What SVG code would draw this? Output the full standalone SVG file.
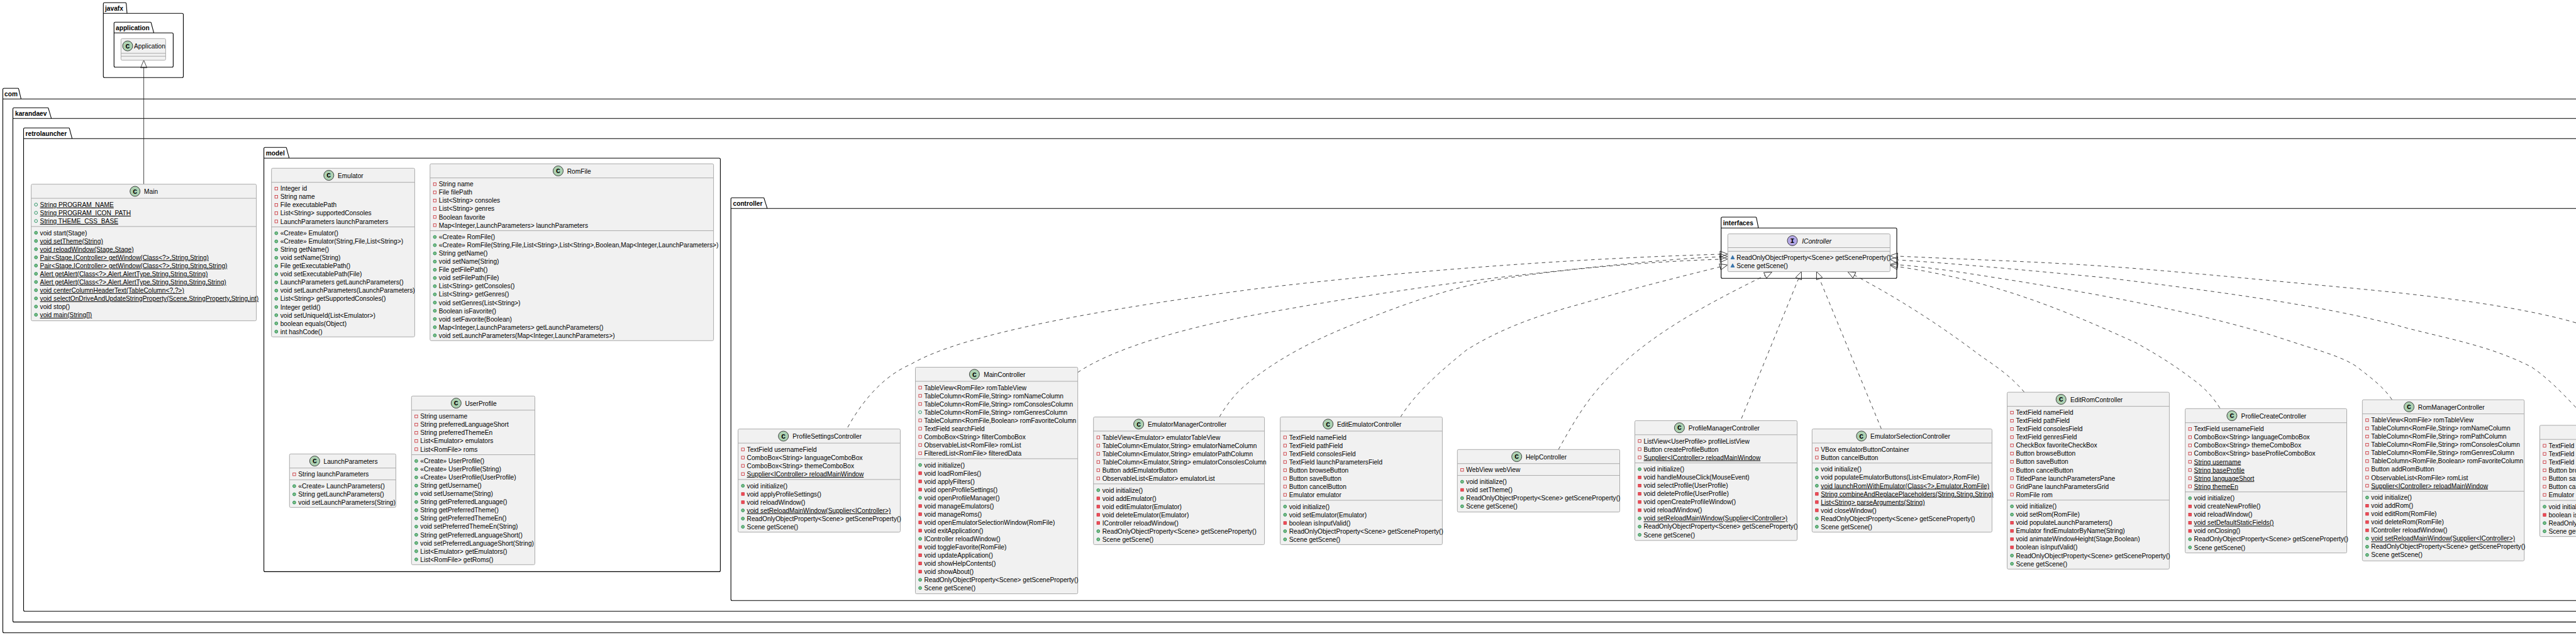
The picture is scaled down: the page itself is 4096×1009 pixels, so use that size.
<svg xmlns="http://www.w3.org/2000/svg" width="4096" height="1009" viewBox="0 0 4096 1009">
<style>
text{font-family:"Liberation Sans",Arial,sans-serif;font-size:10.2px;fill:#000}
.pk{fill:none;stroke:#000;stroke-width:1.1}
.pt{font-weight:bold}
.b{fill:#F1F1F1;stroke:#ABABAB;stroke-width:1}
.l{stroke:#ABABAB;stroke-width:1;fill:none}
.c{fill:#ADD1B2;stroke:#181818;stroke-width:.8}
.i{fill:#B4A7E5;stroke:#181818;stroke-width:.8}
.g{font-family:"Liberation Mono",monospace;font-weight:bold;font-size:11.5px;text-anchor:middle}
.s{text-decoration:underline}
.e{font-style:italic}
.d{fill:none;stroke:#181818;stroke-width:.8;stroke-dasharray:5.6 5.6}
.a{fill:none;stroke:#181818;stroke-width:.8}
</style>
<defs>
<marker id="h" markerUnits="userSpaceOnUse" markerWidth="14" markerHeight="12" refX="0" refY="6" orient="auto" overflow="visible"><path d="M0,1 L12,6 L0,11 Z" fill="none" stroke="#181818" stroke-width=".8"/></marker>
<rect id="f" x="5.4" y="-5.9" width="4.4" height="4.4" fill="none" stroke="#C82930" stroke-width=".8"/>
<circle id="u" cx="7.6" cy="-3.7" r="2.4" fill="none" stroke="#038048" stroke-width=".8"/>
<circle id="p" cx="7.6" cy="-3.7" r="2.4" fill="#84BE84" stroke="#038048" stroke-width=".8"/>
<rect id="r" x="5.4" y="-5.9" width="4.4" height="4.4" fill="#F24D5C" stroke="#C82930" stroke-width=".8"/>
<path id="t" d="M7.7,-7 L10.5,-1.6 L4.9,-1.6 Z" fill="#4177AF" stroke="#1963A0" stroke-width=".8"/>
</defs>
<rect width="4096" height="1009" fill="#fff"/>
<g id="packages">
<g id="pkg-javafx"><path class="pk" d="M164.3,6.3 Q164.3,4.3 166.3,4.3 H199.5 Q200.5,4.3 200.8,6.3 L202,21.3 H289.5 Q291.5,21.3 291.5,23.3 V121.3 Q291.5,123.3 289.5,123.3 H166.3 Q164.3,123.3 164.3,121.3 Z M164.3,21.3 H202"/><text class="pt" x="167" y="16.8">javafx</text></g>
<g id="pkg-application"><path class="pk" d="M181.3,37.3 Q181.3,35.3 183.3,35.3 H239.3 Q240.3,35.3 240.6,37.3 L244.6,52.3 H273.4 Q275.4,52.3 275.4,54.3 V104.7 Q275.4,106.7 273.4,106.7 H183.3 Q181.3,106.7 181.3,104.7 Z M181.3,52.3 H244.6"/><text class="pt" x="184" y="48.3">application</text></g>
<g id="pkg-com"><path class="pk" d="M4.5,142.3 Q4.5,140.3 6.5,140.3 H28.6 Q29.6,140.3 29.9,142.3 L33.5,157.3 H4130 V1005.5 H6.5 Q4.5,1005.5 4.5,1003.5 Z M4.5,157.3 H33.5"/><text class="pt" x="7" y="153">com</text></g>
<g id="pkg-karandaev"><path class="pk" d="M20.5,173.3 Q20.5,171.3 22.5,171.3 H76 Q77,171.3 77.3,173.3 L81.7,188.3 H4130 V988.4 H22.5 Q20.5,988.4 20.5,986.4 Z M20.5,188.3 H81.7"/><text class="pt" x="24" y="184">karandaev</text></g>
<g id="pkg-retrolauncher"><path class="pk" d="M37.5,205.3 Q37.5,203.3 39.5,203.3 H109.4 Q110.4,203.3 110.7,205.3 L114.7,220.3 H4130 V971.3 H39.5 Q37.5,971.3 37.5,969.3 Z M37.5,220.3 H114.7"/><text class="pt" x="40.5" y="216">retrolauncher</text></g>
<g id="pkg-model"><path class="pk" d="M419.6,236.3 Q419.6,234.3 421.6,234.3 H454.5 Q455.5,234.3 455.8,236.3 L459.8,251.3 H1143.4 Q1145.4,251.3 1145.4,253.3 V906.4 Q1145.4,908.4 1143.4,908.4 H421.6 Q419.6,908.4 419.6,906.4 Z M419.6,251.3 H459.8"/><text class="pt" x="422.8" y="247">model</text></g>
<g id="pkg-controller"><path class="pk" d="M1162.2,316.3 Q1162.2,314.3 1164.2,314.3 H1214 Q1215,314.3 1215.3,316.3 L1220,331.3 H4130 V954.3 H1164.2 Q1162.2,954.3 1162.2,952.3 Z M1162.2,331.3 H1220"/><text class="pt" x="1165.5" y="327">controller</text></g>
<g id="pkg-interfaces"><path class="pk" d="M2736.7,347 Q2736.7,345 2738.7,345 H2791.7 Q2792.7,345 2793,347 L2796,362.3 H3014 Q3016,362.3 3016,364.3 V440.3 Q3016,442.3 3014,442.3 H2738.7 Q2736.7,442.3 2736.7,440.3 Z M2736.7,362.3 H2796"/><text class="pt" x="2739.7" y="358">interfaces</text></g>
</g>
<g id="connectors">
<path class="a" marker-end="url(#h)" d="M228.6,292.7 V107.7"/>
<path class="d" marker-end="url(#h)" d="M1347.9,679.1 C1375,630 1410,595 1448,579 C1530,530 1760,490 2000,458.5 C2240,430 2500,411 2735,404"/>
<path class="d" marker-end="url(#h)" d="M1713.7,591.8 C1760,560 1860,525 2000,499.5 C2150,472 2300,450 2408,438 C2520,426 2640,412 2735,408"/>
<path class="d" marker-end="url(#h)" d="M1939,662.6 C1950,643 1965,625 1979,613 C2030,570 2090,540 2153,515 C2240,480 2320,452 2408,440 C2510,425 2640,415 2735,412"/>
<path class="d" marker-end="url(#h)" d="M2227,662.6 C2250,625 2290,590 2332,556 C2390,520 2450,500 2510,484 C2590,460 2670,440 2735,424"/>
<path class="d" marker-end="url(#h)" d="M2478,714.3 C2500,675 2520,640 2548,610 C2610,540 2700,490 2806.7,437.6"/>
<path class="d" marker-end="url(#h)" d="M2769,665 L2859.8,442.7"/>
<path class="d" marker-end="url(#h)" d="M2991.5,681.6 L2893,442.7"/>
<path class="d" marker-end="url(#h)" d="M3218.8,623.2 C3195,595 3170,580 3146,563 C3100,528 3030,480 2948.6,437.3"/>
<path class="d" marker-end="url(#h)" d="M3529.8,648.5 C3515,625 3500,612 3483,600 C3450,575 3420,558 3397,545 C3320,510 3240,475 3146,450 C3100,438 3060,430 3017.2,423.5"/>
<path class="d" marker-end="url(#h)" d="M3803.4,635 C3790,615 3770,600 3745,581 C3720,565 3680,555 3635,540 C3500,495 3300,460 3100,430 C3060,425 3040,422 3017.2,420.8"/>
<path class="d" marker-end="url(#h)" d="M4096,647.7 C4070,620 4050,600 4025,583 C3960,550 3900,540 3826,521 C3700,485 3500,460 3350,441.5 C3230,430 3100,418 3017.2,413"/>
<path class="d" marker-end="url(#h)" d="M4096,513 C4000,485 3850,468 3730,457 C3600,445 3450,430 3350,423.3 C3250,416 3120,412 3017.2,407"/>
</g>
<g id="Application" transform="translate(192.4,61.3)"><rect class="b" width="71" height="34.4" rx="2"/><path class="l" d="M0,23.4 H71 M0,28 H71"/><circle class="c" cx="10.6" cy="11.7" r="8"/><text class="g" x="10.6" y="15.4">C</text><text x="20.6" y="15.7">Application</text></g>
<g id="Main" transform="translate(49.6,292.7)"><rect class="b" width="358" height="217" rx="2"/><path class="l" d="M0,22.4 H358 M0,67.19 H358"/><circle class="c" cx="165.1" cy="11.3" r="8"/><text class="g" x="165.1" y="15">C</text><text x="179.4" y="15.7">Main</text>
<g transform="translate(0,36.1)"><use href="#u"/><text class="s" x="14" y="0">String PROGRAM_NAME</text><use href="#u" y="13.03"/><text class="s" x="14" y="13.03">String PROGRAM_ICON_PATH</text><use href="#u" y="26.06"/><text class="s" x="14" y="26.06">String THEME_CSS_BASE</text></g>
<g transform="translate(0,80.89)"><use href="#p"/><text x="14" y="0">void start(Stage)</text><use href="#p" y="13.03"/><text class="s" x="14" y="13.03">void setTheme(String)</text><use href="#p" y="26.06"/><text class="s" x="14" y="26.06">void reloadWindow(Stage,Stage)</text><use href="#p" y="39.09"/><text class="s" x="14" y="39.09">Pair&lt;Stage,IController&gt; getWindow(Class&lt;?&gt;,String,String)</text><use href="#p" y="52.12"/><text class="s" x="14" y="52.12">Pair&lt;Stage,IController&gt; getWindow(Class&lt;?&gt;,String,String,String)</text><use href="#p" y="65.15"/><text class="s" x="14" y="65.15">Alert getAlert(Class&lt;?&gt;,Alert.AlertType,String,String,String)</text><use href="#p" y="78.18"/><text class="s" x="14" y="78.18">Alert getAlert(Class&lt;?&gt;,Alert.AlertType,String,String,String,String)</text><use href="#p" y="91.21"/><text class="s" x="14" y="91.21">void centerColumnHeaderText(TableColumn&lt;?,?&gt;)</text><use href="#p" y="104.24"/><text class="s" x="14" y="104.24">void selectOnDriveAndUpdateStringProperty(Scene,StringProperty,String,int)</text><use href="#p" y="117.27"/><text x="14" y="117.27">void stop()</text><use href="#p" y="130.3"/><text class="s" x="14" y="130.3">void main(String[])</text></g></g>
<g id="Emulator" transform="translate(431.7,267.3)"><rect class="b" width="227.7" height="268" rx="2"/><path class="l" d="M0,22.4 H227.7 M0,93.25 H227.7"/><circle class="c" cx="91.1" cy="11.3" r="8"/><text class="g" x="91.1" y="15">C</text><text x="105.3" y="15.7">Emulator</text>
<g transform="translate(0,36.1)"><use href="#f"/><text x="14" y="0">Integer id</text><use href="#f" y="13.03"/><text x="14" y="13.03">String name</text><use href="#f" y="26.06"/><text x="14" y="26.06">File executablePath</text><use href="#f" y="39.09"/><text x="14" y="39.09">List&lt;String&gt; supportedConsoles</text><use href="#f" y="52.12"/><text x="14" y="52.12">LaunchParameters launchParameters</text></g>
<g transform="translate(0,106.95)"><use href="#p"/><text x="14" y="0">«Create» Emulator()</text><use href="#p" y="13.03"/><text x="14" y="13.03">«Create» Emulator(String,File,List&lt;String&gt;)</text><use href="#p" y="26.06"/><text x="14" y="26.06">String getName()</text><use href="#p" y="39.09"/><text x="14" y="39.09">void setName(String)</text><use href="#p" y="52.12"/><text x="14" y="52.12">File getExecutablePath()</text><use href="#p" y="65.15"/><text x="14" y="65.15">void setExecutablePath(File)</text><use href="#p" y="78.18"/><text x="14" y="78.18">LaunchParameters getLaunchParameters()</text><use href="#p" y="91.21"/><text x="14" y="91.21">void setLaunchParameters(LaunchParameters)</text><use href="#p" y="104.24"/><text x="14" y="104.24">List&lt;String&gt; getSupportedConsoles()</text><use href="#p" y="117.27"/><text x="14" y="117.27">Integer getId()</text><use href="#p" y="130.3"/><text x="14" y="130.3">void setUniqueId(List&lt;Emulator&gt;)</text><use href="#p" y="143.33"/><text x="14" y="143.33">boolean equals(Object)</text><use href="#p" y="156.36"/><text x="14" y="156.36">int hashCode()</text></g></g>
<g id="RomFile" transform="translate(683.8,260.3)"><rect class="b" width="450.8" height="281" rx="2"/><path class="l" d="M0,22.4 H450.8 M0,106.28 H450.8"/><circle class="c" cx="203.7" cy="11.3" r="8"/><text class="g" x="203.7" y="15">C</text><text x="217.9" y="15.7">RomFile</text>
<g transform="translate(0,36.1)"><use href="#f"/><text x="14" y="0">String name</text><use href="#f" y="13.03"/><text x="14" y="13.03">File filePath</text><use href="#f" y="26.06"/><text x="14" y="26.06">List&lt;String&gt; consoles</text><use href="#f" y="39.09"/><text x="14" y="39.09">List&lt;String&gt; genres</text><use href="#f" y="52.12"/><text x="14" y="52.12">Boolean favorite</text><use href="#f" y="65.15"/><text x="14" y="65.15">Map&lt;Integer,LaunchParameters&gt; launchParameters</text></g>
<g transform="translate(0,119.98)"><use href="#p"/><text x="14" y="0">«Create» RomFile()</text><use href="#p" y="13.03"/><text x="14" y="13.03">«Create» RomFile(String,File,List&lt;String&gt;,List&lt;String&gt;,Boolean,Map&lt;Integer,LaunchParameters&gt;)</text><use href="#p" y="26.06"/><text x="14" y="26.06">String getName()</text><use href="#p" y="39.09"/><text x="14" y="39.09">void setName(String)</text><use href="#p" y="52.12"/><text x="14" y="52.12">File getFilePath()</text><use href="#p" y="65.15"/><text x="14" y="65.15">void setFilePath(File)</text><use href="#p" y="78.18"/><text x="14" y="78.18">List&lt;String&gt; getConsoles()</text><use href="#p" y="91.21"/><text x="14" y="91.21">List&lt;String&gt; getGenres()</text><use href="#p" y="104.24"/><text x="14" y="104.24">void setGenres(List&lt;String&gt;)</text><use href="#p" y="117.27"/><text x="14" y="117.27">Boolean isFavorite()</text><use href="#p" y="130.3"/><text x="14" y="130.3">void setFavorite(Boolean)</text><use href="#p" y="143.33"/><text x="14" y="143.33">Map&lt;Integer,LaunchParameters&gt; getLaunchParameters()</text><use href="#p" y="156.36"/><text x="14" y="156.36">void setLaunchParameters(Map&lt;Integer,LaunchParameters&gt;)</text></g></g>
<g id="UserProfile" transform="translate(654.3,629.3)"><rect class="b" width="196.2" height="268" rx="2"/><path class="l" d="M0,22.4 H196.2 M0,93.25 H196.2"/><circle class="c" cx="71" cy="11.3" r="8"/><text class="g" x="71" y="15">C</text><text x="85.1" y="15.7">UserProfile</text>
<g transform="translate(0,36.1)"><use href="#f"/><text x="14" y="0">String username</text><use href="#f" y="13.03"/><text x="14" y="13.03">String preferredLanguageShort</text><use href="#f" y="26.06"/><text x="14" y="26.06">String preferredThemeEn</text><use href="#f" y="39.09"/><text x="14" y="39.09">List&lt;Emulator&gt; emulators</text><use href="#f" y="52.12"/><text x="14" y="52.12">List&lt;RomFile&gt; roms</text></g>
<g transform="translate(0,106.95)"><use href="#p"/><text x="14" y="0">«Create» UserProfile()</text><use href="#p" y="13.03"/><text x="14" y="13.03">«Create» UserProfile(String)</text><use href="#p" y="26.06"/><text x="14" y="26.06">«Create» UserProfile(UserProfile)</text><use href="#p" y="39.09"/><text x="14" y="39.09">String getUsername()</text><use href="#p" y="52.12"/><text x="14" y="52.12">void setUsername(String)</text><use href="#p" y="65.15"/><text x="14" y="65.15">String getPreferredLanguage()</text><use href="#p" y="78.18"/><text x="14" y="78.18">String getPreferredTheme()</text><use href="#p" y="91.21"/><text x="14" y="91.21">String getPreferredThemeEn()</text><use href="#p" y="104.24"/><text x="14" y="104.24">void setPreferredThemeEn(String)</text><use href="#p" y="117.27"/><text x="14" y="117.27">String getPreferredLanguageShort()</text><use href="#p" y="130.3"/><text x="14" y="130.3">void setPreferredLanguageShort(String)</text><use href="#p" y="143.33"/><text x="14" y="143.33">List&lt;Emulator&gt; getEmulators()</text><use href="#p" y="156.36"/><text x="14" y="156.36">List&lt;RomFile&gt; getRoms()</text></g></g>
<g id="LaunchParameters" transform="translate(460.3,721.3)"><rect class="b" width="169.1" height="85" rx="2"/><path class="l" d="M0,22.4 H169.1 M0,41.13 H169.1"/><circle class="c" cx="40.1" cy="11.3" r="8"/><text class="g" x="40.1" y="15">C</text><text x="54.2" y="15.7">LaunchParameters</text>
<g transform="translate(0,36.1)"><use href="#f"/><text x="14" y="0">String launchParameters</text></g>
<g transform="translate(0,54.83)"><use href="#p"/><text x="14" y="0">«Create» LaunchParameters()</text><use href="#p" y="13.03"/><text x="14" y="13.03">String getLaunchParameters()</text><use href="#p" y="26.06"/><text x="14" y="26.06">void setLaunchParameters(String)</text></g></g>
<g id="ProfileSettingsController" transform="translate(1173.6,681.7)"><rect class="b" width="257.9" height="163.8" rx="2"/><path class="l" d="M0,22.4 H257.9 M0,80.22 H257.9"/><circle class="c" cx="72.1" cy="11.3" r="8"/><text class="g" x="72.1" y="15">C</text><text x="86.7" y="15.7">ProfileSettingsController</text>
<g transform="translate(0,36.1)"><use href="#f"/><text x="14" y="0">TextField usernameField</text><use href="#f" y="13.03"/><text x="14" y="13.03">ComboBox&lt;String&gt; languageComboBox</text><use href="#f" y="26.06"/><text x="14" y="26.06">ComboBox&lt;String&gt; themeComboBox</text><use href="#f" y="39.09"/><text class="s" x="14" y="39.09">Supplier&lt;IController&gt; reloadMainWindow</text></g>
<g transform="translate(0,93.92)"><use href="#p"/><text x="14" y="0">void initialize()</text><use href="#r" y="13.03"/><text x="14" y="13.03">void applyProfileSettings()</text><use href="#r" y="26.06"/><text x="14" y="26.06">void reloadWindow()</text><use href="#p" y="39.09"/><text class="s" x="14" y="39.09">void setReloadMainWindow(Supplier&lt;IController&gt;)</text><use href="#p" y="52.12"/><text x="14" y="52.12">ReadOnlyObjectProperty&lt;Scene&gt; getSceneProperty()</text><use href="#p" y="65.15"/><text x="14" y="65.15">Scene getScene()</text></g></g>
<g id="MainController" transform="translate(1455.5,583.5)"><rect class="b" width="258.2" height="360" rx="2"/><path class="l" d="M0,22.4 H258.2 M0,145.37 H258.2"/><circle class="c" cx="93.9" cy="11.3" r="8"/><text class="g" x="93.9" y="15">C</text><text x="108.7" y="15.7">MainController</text>
<g transform="translate(0,36.1)"><use href="#f"/><text x="14" y="0">TableView&lt;RomFile&gt; romTableView</text><use href="#f" y="13.03"/><text x="14" y="13.03">TableColumn&lt;RomFile,String&gt; romNameColumn</text><use href="#f" y="26.06"/><text x="14" y="26.06">TableColumn&lt;RomFile,String&gt; romConsolesColumn</text><use href="#u" y="39.09"/><text x="14" y="39.09">TableColumn&lt;RomFile,String&gt; romGenresColumn</text><use href="#f" y="52.12"/><text x="14" y="52.12">TableColumn&lt;RomFile,Boolean&gt; romFavoriteColumn</text><use href="#f" y="65.15"/><text x="14" y="65.15">TextField searchField</text><use href="#f" y="78.18"/><text x="14" y="78.18">ComboBox&lt;String&gt; filterComboBox</text><use href="#f" y="91.21"/><text x="14" y="91.21">ObservableList&lt;RomFile&gt; romList</text><use href="#f" y="104.24"/><text x="14" y="104.24">FilteredList&lt;RomFile&gt; filteredData</text></g>
<g transform="translate(0,159.07)"><use href="#p"/><text x="14" y="0">void initialize()</text><use href="#r" y="13.03"/><text x="14" y="13.03">void loadRomFiles()</text><use href="#r" y="26.06"/><text x="14" y="26.06">void applyFilters()</text><use href="#r" y="39.09"/><text x="14" y="39.09">void openProfileSettings()</text><use href="#p" y="52.12"/><text x="14" y="52.12">void openProfileManager()</text><use href="#r" y="65.15"/><text x="14" y="65.15">void manageEmulators()</text><use href="#r" y="78.18"/><text x="14" y="78.18">void manageRoms()</text><use href="#r" y="91.21"/><text x="14" y="91.21">void openEmulatorSelectionWindow(RomFile)</text><use href="#r" y="104.24"/><text x="14" y="104.24">void exitApplication()</text><use href="#p" y="117.27"/><text x="14" y="117.27">IController reloadWindow()</text><use href="#r" y="130.3"/><text x="14" y="130.3">void toggleFavorite(RomFile)</text><use href="#r" y="143.33"/><text x="14" y="143.33">void updateApplication()</text><use href="#r" y="156.36"/><text x="14" y="156.36">void showHelpContents()</text><use href="#r" y="169.39"/><text x="14" y="169.39">void showAbout()</text><use href="#p" y="182.42"/><text x="14" y="182.42">ReadOnlyObjectProperty&lt;Scene&gt; getSceneProperty()</text><use href="#p" y="195.45"/><text x="14" y="195.45">Scene getScene()</text></g></g>
<g id="EmulatorManagerController" transform="translate(1738.7,662.6)"><rect class="b" width="271.9" height="202.8" rx="2"/><path class="l" d="M0,22.4 H271.9 M0,106.28 H271.9"/><circle class="c" cx="71.9" cy="11.3" r="8"/><text class="g" x="71.9" y="15">C</text><text x="86.2" y="15.7">EmulatorManagerController</text>
<g transform="translate(0,36.1)"><use href="#f"/><text x="14" y="0">TableView&lt;Emulator&gt; emulatorTableView</text><use href="#f" y="13.03"/><text x="14" y="13.03">TableColumn&lt;Emulator,String&gt; emulatorNameColumn</text><use href="#f" y="26.06"/><text x="14" y="26.06">TableColumn&lt;Emulator,String&gt; emulatorPathColumn</text><use href="#f" y="39.09"/><text x="14" y="39.09">TableColumn&lt;Emulator,String&gt; emulatorConsolesColumn</text><use href="#f" y="52.12"/><text x="14" y="52.12">Button addEmulatorButton</text><use href="#f" y="65.15"/><text x="14" y="65.15">ObservableList&lt;Emulator&gt; emulatorList</text></g>
<g transform="translate(0,119.98)"><use href="#p"/><text x="14" y="0">void initialize()</text><use href="#r" y="13.03"/><text x="14" y="13.03">void addEmulator()</text><use href="#r" y="26.06"/><text x="14" y="26.06">void editEmulator(Emulator)</text><use href="#r" y="39.09"/><text x="14" y="39.09">void deleteEmulator(Emulator)</text><use href="#r" y="52.12"/><text x="14" y="52.12">IController reloadWindow()</text><use href="#p" y="65.15"/><text x="14" y="65.15">ReadOnlyObjectProperty&lt;Scene&gt; getSceneProperty()</text><use href="#p" y="78.18"/><text x="14" y="78.18">Scene getScene()</text></g></g>
<g id="EditEmulatorController" transform="translate(2035.7,662.6)"><rect class="b" width="257.7" height="202.8" rx="2"/><path class="l" d="M0,22.4 H257.7 M0,132.34 H257.7"/><circle class="c" cx="76" cy="11.3" r="8"/><text class="g" x="76" y="15">C</text><text x="90.3" y="15.7">EditEmulatorController</text>
<g transform="translate(0,36.1)"><use href="#f"/><text x="14" y="0">TextField nameField</text><use href="#f" y="13.03"/><text x="14" y="13.03">TextField pathField</text><use href="#f" y="26.06"/><text x="14" y="26.06">TextField consolesField</text><use href="#f" y="39.09"/><text x="14" y="39.09">TextField launchParametersField</text><use href="#f" y="52.12"/><text x="14" y="52.12">Button browseButton</text><use href="#f" y="65.15"/><text x="14" y="65.15">Button saveButton</text><use href="#f" y="78.18"/><text x="14" y="78.18">Button cancelButton</text><use href="#f" y="91.21"/><text x="14" y="91.21">Emulator emulator</text></g>
<g transform="translate(0,146.04)"><use href="#p"/><text x="14" y="0">void initialize()</text><use href="#p" y="13.03"/><text x="14" y="13.03">void setEmulator(Emulator)</text><use href="#r" y="26.06"/><text x="14" y="26.06">boolean isInputValid()</text><use href="#p" y="39.09"/><text x="14" y="39.09">ReadOnlyObjectProperty&lt;Scene&gt; getSceneProperty()</text><use href="#p" y="52.12"/><text x="14" y="52.12">Scene getScene()</text></g></g>
<g id="HelpController" transform="translate(2317.3,714.3)"><rect class="b" width="258.2" height="99.3" rx="2"/><path class="l" d="M0,22.4 H258.2 M0,41.13 H258.2"/><circle class="c" cx="94.4" cy="11.3" r="8"/><text class="g" x="94.4" y="15">C</text><text x="108.7" y="15.7">HelpController</text>
<g transform="translate(0,36.1)"><use href="#f"/><text x="14" y="0">WebView webView</text></g>
<g transform="translate(0,54.83)"><use href="#p"/><text x="14" y="0">void initialize()</text><use href="#r" y="13.03"/><text x="14" y="13.03">void setTheme()</text><use href="#p" y="26.06"/><text x="14" y="26.06">ReadOnlyObjectProperty&lt;Scene&gt; getSceneProperty()</text><use href="#p" y="39.09"/><text x="14" y="39.09">Scene getScene()</text></g></g>
<g id="ProfileManagerController" transform="translate(2599.5,668.4)"><rect class="b" width="258.1" height="190.4" rx="2"/><path class="l" d="M0,22.4 H258.1 M0,67.19 H258.1"/><circle class="c" cx="70.9" cy="11.3" r="8"/><text class="g" x="70.9" y="15">C</text><text x="85.2" y="15.7">ProfileManagerController</text>
<g transform="translate(0,36.1)"><use href="#f"/><text x="14" y="0">ListView&lt;UserProfile&gt; profileListView</text><use href="#f" y="13.03"/><text x="14" y="13.03">Button createProfileButton</text><use href="#f" y="26.06"/><text class="s" x="14" y="26.06">Supplier&lt;IController&gt; reloadMainWindow</text></g>
<g transform="translate(0,80.89)"><use href="#p"/><text x="14" y="0">void initialize()</text><use href="#r" y="13.03"/><text x="14" y="13.03">void handleMouseClick(MouseEvent)</text><use href="#r" y="26.06"/><text x="14" y="26.06">void selectProfile(UserProfile)</text><use href="#r" y="39.09"/><text x="14" y="39.09">void deleteProfile(UserProfile)</text><use href="#r" y="52.12"/><text x="14" y="52.12">void openCreateProfileWindow()</text><use href="#r" y="65.15"/><text x="14" y="65.15">void reloadWindow()</text><use href="#p" y="78.18"/><text class="s" x="14" y="78.18">void setReloadMainWindow(Supplier&lt;IController&gt;)</text><use href="#p" y="91.21"/><text x="14" y="91.21">ReadOnlyObjectProperty&lt;Scene&gt; getSceneProperty()</text><use href="#p" y="104.24"/><text x="14" y="104.24">Scene getScene()</text></g></g>
<g id="EmulatorSelectionController" transform="translate(2881.3,681.6)"><rect class="b" width="286.1" height="163.9" rx="2"/><path class="l" d="M0,22.4 H286.1 M0,54.16 H286.1"/><circle class="c" cx="78.5" cy="11.3" r="8"/><text class="g" x="78.5" y="15">C</text><text x="92.8" y="15.7">EmulatorSelectionController</text>
<g transform="translate(0,36.1)"><use href="#f"/><text x="14" y="0">VBox emulatorButtonContainer</text><use href="#f" y="13.03"/><text x="14" y="13.03">Button cancelButton</text></g>
<g transform="translate(0,67.86)"><use href="#p"/><text x="14" y="0">void initialize()</text><use href="#p" y="13.03"/><text x="14" y="13.03">void populateEmulatorButtons(List&lt;Emulator&gt;,RomFile)</text><use href="#p" y="26.06"/><text class="s" x="14" y="26.06">void launchRomWithEmulator(Class&lt;?&gt;,Emulator,RomFile)</text><use href="#r" y="39.09"/><text class="s" x="14" y="39.09">String combineAndReplacePlaceholders(String,String,String)</text><use href="#r" y="52.12"/><text class="s" x="14" y="52.12">List&lt;String&gt; parseArguments(String)</text><use href="#r" y="65.15"/><text x="14" y="65.15">void closeWindow()</text><use href="#p" y="78.18"/><text x="14" y="78.18">ReadOnlyObjectProperty&lt;Scene&gt; getSceneProperty()</text><use href="#p" y="91.21"/><text x="14" y="91.21">Scene getScene()</text></g></g>
<g id="EditRomController" transform="translate(3191.5,623.2)"><rect class="b" width="257.9" height="281.1" rx="2"/><path class="l" d="M0,22.4 H257.9 M0,171.43 H257.9"/><circle class="c" cx="85.7" cy="11.3" r="8"/><text class="g" x="85.7" y="15">C</text><text x="100.5" y="15.7">EditRomController</text>
<g transform="translate(0,36.1)"><use href="#f"/><text x="14" y="0">TextField nameField</text><use href="#f" y="13.03"/><text x="14" y="13.03">TextField pathField</text><use href="#f" y="26.06"/><text x="14" y="26.06">TextField consolesField</text><use href="#f" y="39.09"/><text x="14" y="39.09">TextField genresField</text><use href="#f" y="52.12"/><text x="14" y="52.12">CheckBox favoriteCheckBox</text><use href="#f" y="65.15"/><text x="14" y="65.15">Button browseButton</text><use href="#f" y="78.18"/><text x="14" y="78.18">Button saveButton</text><use href="#f" y="91.21"/><text x="14" y="91.21">Button cancelButton</text><use href="#f" y="104.24"/><text x="14" y="104.24">TitledPane launchParametersPane</text><use href="#f" y="117.27"/><text x="14" y="117.27">GridPane launchParametersGrid</text><use href="#f" y="130.3"/><text x="14" y="130.3">RomFile rom</text></g>
<g transform="translate(0,185.13)"><use href="#p"/><text x="14" y="0">void initialize()</text><use href="#p" y="13.03"/><text x="14" y="13.03">void setRom(RomFile)</text><use href="#r" y="26.06"/><text x="14" y="26.06">void populateLaunchParameters()</text><use href="#r" y="39.09"/><text x="14" y="39.09">Emulator findEmulatorByName(String)</text><use href="#r" y="52.12"/><text x="14" y="52.12">void animateWindowHeight(Stage,Boolean)</text><use href="#r" y="65.15"/><text x="14" y="65.15">boolean isInputValid()</text><use href="#p" y="78.18"/><text x="14" y="78.18">ReadOnlyObjectProperty&lt;Scene&gt; getSceneProperty()</text><use href="#p" y="91.21"/><text x="14" y="91.21">Scene getScene()</text></g></g>
<g id="ProfileCreateController" transform="translate(3474.6,649.3)"><rect class="b" width="256.9" height="229.3" rx="2"/><path class="l" d="M0,22.4 H256.9 M0,132.34 H256.9"/><circle class="c" cx="74.3" cy="11.3" r="8"/><text class="g" x="74.3" y="15">C</text><text x="89" y="15.7">ProfileCreateController</text>
<g transform="translate(0,36.1)"><use href="#f"/><text x="14" y="0">TextField usernameField</text><use href="#f" y="13.03"/><text x="14" y="13.03">ComboBox&lt;String&gt; languageComboBox</text><use href="#f" y="26.06"/><text x="14" y="26.06">ComboBox&lt;String&gt; themeComboBox</text><use href="#f" y="39.09"/><text x="14" y="39.09">ComboBox&lt;String&gt; baseProfileComboBox</text><use href="#f" y="52.12"/><text class="s" x="14" y="52.12">String username</text><use href="#f" y="65.15"/><text class="s" x="14" y="65.15">String baseProfile</text><use href="#f" y="78.18"/><text class="s" x="14" y="78.18">String languageShort</text><use href="#f" y="91.21"/><text class="s" x="14" y="91.21">String themeEn</text></g>
<g transform="translate(0,146.04)"><use href="#p"/><text x="14" y="0">void initialize()</text><use href="#r" y="13.03"/><text x="14" y="13.03">void createNewProfile()</text><use href="#r" y="26.06"/><text x="14" y="26.06">void reloadWindow()</text><use href="#r" y="39.09"/><text class="s" x="14" y="39.09">void setDefaultStaticFields()</text><use href="#r" y="52.12"/><text x="14" y="52.12">void onClosing()</text><use href="#p" y="65.15"/><text x="14" y="65.15">ReadOnlyObjectProperty&lt;Scene&gt; getSceneProperty()</text><use href="#p" y="78.18"/><text x="14" y="78.18">Scene getScene()</text></g></g>
<g id="RomManagerController" transform="translate(3756.3,635.2)"><rect class="b" width="257.4" height="256" rx="2"/><path class="l" d="M0,22.4 H257.4 M0,145.37 H257.4"/><circle class="c" cx="74.2" cy="11.3" r="8"/><text class="g" x="74.2" y="15">C</text><text x="88.5" y="15.7">RomManagerController</text>
<g transform="translate(0,36.1)"><use href="#f"/><text x="14" y="0">TableView&lt;RomFile&gt; romTableView</text><use href="#f" y="13.03"/><text x="14" y="13.03">TableColumn&lt;RomFile,String&gt; romNameColumn</text><use href="#f" y="26.06"/><text x="14" y="26.06">TableColumn&lt;RomFile,String&gt; romPathColumn</text><use href="#f" y="39.09"/><text x="14" y="39.09">TableColumn&lt;RomFile,String&gt; romConsolesColumn</text><use href="#f" y="52.12"/><text x="14" y="52.12">TableColumn&lt;RomFile,String&gt; romGenresColumn</text><use href="#f" y="65.15"/><text x="14" y="65.15">TableColumn&lt;RomFile,Boolean&gt; romFavoriteColumn</text><use href="#f" y="78.18"/><text x="14" y="78.18">Button addRomButton</text><use href="#f" y="91.21"/><text x="14" y="91.21">ObservableList&lt;RomFile&gt; romList</text><use href="#f" y="104.24"/><text class="s" x="14" y="104.24">Supplier&lt;IController&gt; reloadMainWindow</text></g>
<g transform="translate(0,159.07)"><use href="#p"/><text x="14" y="0">void initialize()</text><use href="#r" y="13.03"/><text x="14" y="13.03">void addRom()</text><use href="#r" y="26.06"/><text x="14" y="26.06">void editRom(RomFile)</text><use href="#r" y="39.09"/><text x="14" y="39.09">void deleteRom(RomFile)</text><use href="#r" y="52.12"/><text x="14" y="52.12">IController reloadWindow()</text><use href="#p" y="65.15"/><text class="s" x="14" y="65.15">void setReloadMainWindow(Supplier&lt;IController&gt;)</text><use href="#p" y="78.18"/><text x="14" y="78.18">ReadOnlyObjectProperty&lt;Scene&gt; getSceneProperty()</text><use href="#p" y="91.21"/><text x="14" y="91.21">Scene getScene()</text></g></g>
<g id="PartialController" transform="translate(4038.4,675.8)"><rect class="b" width="100" height="176.8" rx="2"/><path class="l" d="M0,22.4 H100 M0,119.31 H100"/>
<g transform="translate(0,36.1)"><use href="#f"/><text x="14" y="0">TextField</text><use href="#f" y="13.03"/><text x="14" y="13.03">TextField</text><use href="#f" y="26.06"/><text x="14" y="26.06">TextField</text><use href="#f" y="39.09"/><text x="14" y="39.09">Button bro</text><use href="#f" y="52.12"/><text x="14" y="52.12">Button sav</text><use href="#f" y="65.15"/><text x="14" y="65.15">Button car</text><use href="#f" y="78.18"/><text x="14" y="78.18">Emulator r</text></g>
<g transform="translate(0,133.01)"><use href="#p"/><text x="14" y="0">void initial</text><use href="#r" y="13.03"/><text x="14" y="13.03">boolean is</text><use href="#p" y="26.06"/><text x="14" y="26.06">ReadOnly</text><use href="#p" y="39.09"/><text x="14" y="39.09">Scene get</text></g></g>
<g id="IController" transform="translate(2747.3,371.6)"><rect class="b" width="258.1" height="60" rx="2"/><path class="l" d="M0,21.9 H258.1 M0,27.7 H258.1"/><circle class="i" cx="102.7" cy="10.8" r="8"/><text class="g" x="102.7" y="14.5">I</text><text class="e" x="117.9" y="15.2">IController</text>
<use href="#t" y="41.4"/><text x="14" y="41.4">ReadOnlyObjectProperty&lt;Scene&gt; getSceneProperty()</text><use href="#t" y="54.43"/><text x="14" y="54.43">Scene getScene()</text></g>
</svg>
